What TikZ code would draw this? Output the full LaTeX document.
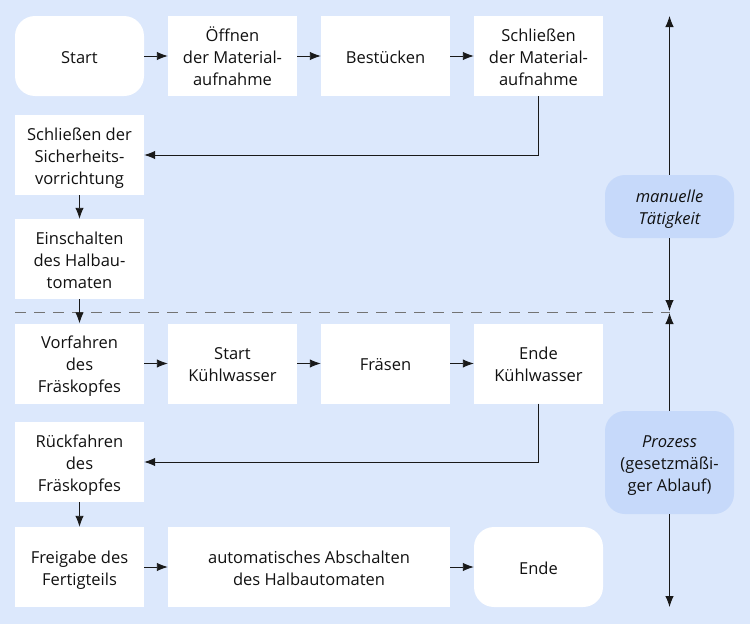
\documentclass[tikz,border=0pt]{standalone}
\usepackage{fontspec}
\setmainfont{Open Sans}
\usetikzlibrary{arrows.meta}
\definecolor{bg}{HTML}{DCE8FC}
\definecolor{lab}{HTML}{C6D9FA}
\definecolor{txt}{HTML}{111111}
\newcommand{\mlines}[1]{\raisebox{-2.6pt}[\height][\depth]{\begin{tabular}{@{}c@{}}#1\end{tabular}}}
\begin{document}
\begin{tikzpicture}[x=1pt,y=-1pt,
  box/.style={fill=white,minimum width=129pt,minimum height=80pt,inner sep=0pt,
    font=\fontsize{16.5}{22}\selectfont,text=txt},
  term/.style={box,rounded corners=20pt},
  labbox/.style={fill=lab,minimum width=129pt,inner sep=0pt,rounded corners=20pt,
    font=\fontsize{16.5}{22}\selectfont,text=txt},
  conn/.style={line width=0.9pt,draw=black!90,-{Latex[length=11pt,width=8.5pt]}}]
\fill[bg] (0,0) rectangle (750,624);
\useasboundingbox (0,0) rectangle (750,624);
% row 1
\node[term] (start) at (79.5,56) {\mlines{Start}};
\node[box] (oeff) at (232.5,56) {\mlines{Öffnen\\der Material-\\aufnahme}};
\node[box] (best) at (385.5,56) {\mlines{Bestücken}};
\node[box] (schlm) at (538.5,56) {\mlines{Schließen\\der Material-\\aufnahme}};
\node[box] (schls) at (79.5,155) {\mlines{Schließen der\\Sicherheits-\\vorrichtung}};
\node[box] (ein) at (79.5,259) {\mlines{Einschalten\\des Halbau-\\tomaten}};
% row 2
\node[box] (vor) at (79.5,363.5) {\mlines{Vorfahren\\des\\Fräskopfes}};
\node[box] (skw) at (232.5,363.5) {\mlines{Start\\Kühlwasser}};
\node[box] (fraes) at (385.5,363.5) {\mlines{Fräsen}};
\node[box] (ekw) at (538.5,363.5) {\mlines{Ende\\Kühlwasser}};
\node[box] (rueck) at (79.5,462) {\mlines{Rückfahren\\des\\Fräskopfes}};
\node[box] (frei) at (79.5,567) {\mlines{Freigabe des\\Fertigteils}};
\node[box,minimum width=282pt] (auto) at (309,567) {\mlines{automatisches Abschalten\\des Halbautomaten}};
\node[term] (ende) at (538.5,567) {\mlines{Ende}};
% labels
\node[labbox,minimum height=63pt] (man) at (669.5,206.5) {\itshape\mlines{manuelle\\Tätigkeit}};
\node[labbox,minimum height=103pt] (proz) at (669.5,462.5) {\mlines{\textit{Prozess}\\(gesetzmäßi-\\ger Ablauf)}};
\coordinate (top) at (669.5,16);
\coordinate (mid) at (669.5,311);
\coordinate (mid2) at (669.5,313);
\coordinate (bot) at (669.5,607);
\coordinate (dl) at (15,312);
\coordinate (dr) at (669.5,312);
% dashed line
\draw[line width=1pt,draw=black!55,dash pattern=on 11pt off 8pt] (dl) -- (dr);
% connectors
\draw[conn] (start) -- (oeff);
\draw[conn] (oeff) -- (best);
\draw[conn] (best) -- (schlm);
\draw[conn] (schlm.south) |- (schls.east);
\draw[conn] (schls) -- (ein);
\draw[conn] (ein) -- (vor);
\draw[conn] (vor) -- (skw);
\draw[conn] (skw) -- (fraes);
\draw[conn] (fraes) -- (ekw);
\draw[conn] (ekw.south) |- (rueck.east);
\draw[conn] (rueck) -- (frei);
\draw[conn] (frei) -- (auto);
\draw[conn] (auto) -- (ende);
\draw[conn] (man) -- (top);
\draw[conn] (man) -- (mid);
\draw[conn] (proz) -- (mid2);
\draw[conn] (proz) -- (bot);
\end{tikzpicture}
\end{document}
